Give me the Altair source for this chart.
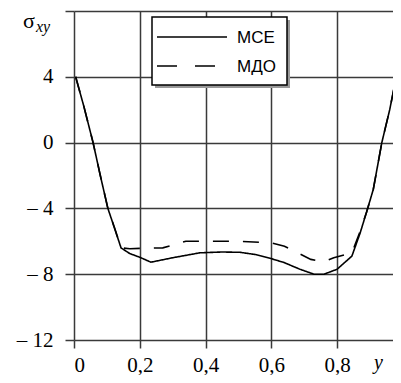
import altair as alt
import pandas as pd

series_names = ["МСЕ", "МДО"]

mce_x = [0.005, 0.03, 0.058, 0.08, 0.103, 0.125, 0.143, 0.17, 0.2, 0.234, 0.3, 0.383, 0.45, 0.505,
         0.55, 0.596, 0.64, 0.687, 0.73, 0.76, 0.8, 0.845, 0.87, 0.89, 0.91, 0.936, 0.96, 0.98, 0.99]
mce_y = [4.0, 2.2, 0.0, -2.0, -4.0, -5.3, -6.4, -6.75, -6.97, -7.27, -7.0, -6.7, -6.65, -6.67,
         -6.8, -7.03, -7.3, -7.7, -8.0, -8.0, -7.7, -6.9, -5.5, -4.2, -2.85, 0.0, 2.0, 4.0, 4.5]

mdo_x = [0.005, 0.03, 0.058, 0.08, 0.103, 0.125, 0.143, 0.17, 0.22, 0.27, 0.34, 0.38, 0.44, 0.5,
         0.565, 0.6, 0.64, 0.68, 0.72, 0.76, 0.79, 0.845, 0.87, 0.89, 0.91, 0.936, 0.96, 0.98, 0.99]
mdo_y = [4.0, 2.2, 0.0, -2.0, -4.0, -5.3, -6.4, -6.45, -6.42, -6.4, -6.0, -6.0, -6.0, -6.0,
         -6.06, -6.1, -6.3, -6.7, -7.1, -7.25, -7.0, -6.7, -5.4, -4.2, -2.85, 0.0, 2.0, 4.0, 4.5]

x_ticks = [0, 0.2, 0.4, 0.6, 0.8]
y_ticks = [-12, -8, -4, 0, 4, 8]

df = pd.concat([
    pd.DataFrame({"x": mce_x, "y": mce_y, "series": series_names[0], "order": range(len(mce_x))}),
    pd.DataFrame({"x": mdo_x, "y": mdo_y, "series": series_names[1], "order": range(len(mdo_x))}),
])

W, H = 319, 329
grid_color = "#3a3a3a"
serif = "Liberation Serif"
sans = "Liberation Sans"

x_scale = alt.Scale(domain=[0, 0.97], nice=False, zero=False)
y_scale = alt.Scale(domain=[-12, 8], nice=False, zero=False)

lines = alt.Chart(df).mark_line(color="black", strokeWidth=1.6, clip=True).encode(
    x=alt.X("x:Q", scale=x_scale, axis=alt.Axis(
        values=x_ticks, title=None, grid=True, domain=False, ticks=True, tickSize=8,
        labelExpr="datum.value == 0 ? '0' : replace(format(datum.value, '.1f'), '.', ',')",
        labelFont=serif, labelFontSize=21, labelColor="black",
        labelBaseline="alphabetic", labelPadding=23)),
    y=alt.Y("y:Q", scale=y_scale, axis=alt.Axis(
        values=y_ticks, title=None, grid=True, domain=False, ticks=True, tickSize=9,
        labelPadding=12, labelFont=serif, labelFontSize=21, labelColor="black",
        labelExpr="datum.value == 8 ? '' : (datum.value < 0 ? '– ' + abs(datum.value) : '' + datum.value)")),
    strokeDash=alt.StrokeDash("series:N", scale=alt.Scale(domain=series_names, range=[[1, 0], [16, 14]]),
                              legend=None),
    detail="series:N",
    order="order:Q",
)

one = alt.Data(values=[{}])

shadow = alt.Chart(one).mark_rect(fill="#999999").encode(
    x=alt.value(81), x2=alt.value(216), y=alt.value(9), y2=alt.value(77))
box = alt.Chart(one).mark_rect(fill="white", stroke="black", strokeWidth=1.5).encode(
    x=alt.value(78), x2=alt.value(213), y=alt.value(6), y2=alt.value(74))
leg_solid = alt.Chart(one).mark_rule(color="black", strokeWidth=1.6).encode(
    x=alt.value(83), x2=alt.value(153), y=alt.value(26))
leg_dash = alt.Chart(one).mark_rule(color="black", strokeWidth=1.6, strokeDash=[20, 18]).encode(
    x=alt.value(83), x2=alt.value(153), y=alt.value(55))
leg_t1 = alt.Chart(one).mark_text(text=series_names[0], font=sans, fontSize=17, align="left",
                                  baseline="middle").encode(x=alt.value(163), y=alt.value(27))
leg_t2 = alt.Chart(one).mark_text(text=series_names[1], font=sans, fontSize=17, align="left",
                                  baseline="middle").encode(x=alt.value(163), y=alt.value(56))

sigma = alt.Chart(one).mark_text(text="σ", font=serif, fontSize=22, align="left",
                                 baseline="alphabetic").encode(x=alt.value(-51), y=alt.value(17))
sub = alt.Chart(one).mark_text(text="xy", font=serif, fontSize=16, fontStyle="italic", align="left",
                               baseline="alphabetic").encode(x=alt.value(-38), y=alt.value(21))
ytitle = alt.Chart(one).mark_text(text="y", font=serif, fontSize=20, fontStyle="italic", align="left",
                                  baseline="alphabetic").encode(x=alt.value(300), y=alt.value(358))

chart = alt.layer(lines, shadow, box, leg_solid, leg_dash, leg_t1, leg_t2, sigma, sub, ytitle).properties(
    width=W, height=H,
    background="white",
    autosize=alt.AutoSizeParams(type="none"),
    padding={"left": 66, "top": 3, "right": 0, "bottom": 35},
).configure_view(stroke=None).configure_axis(
    gridColor=grid_color, gridWidth=1.5, gridOpacity=1,
    tickColor=grid_color, tickWidth=1.5,
)

chart.save("out.html", embed_options={"renderer": "svg", "actions": False})
